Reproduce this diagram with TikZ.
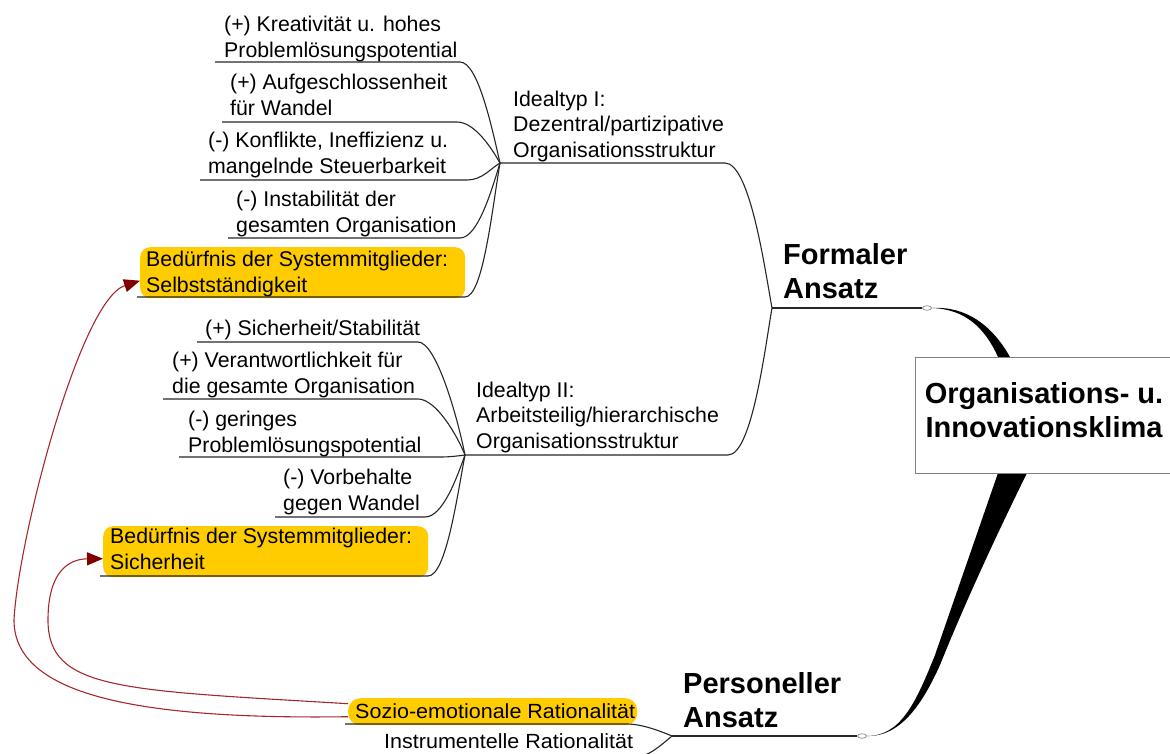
\documentclass[tikz,border=0pt]{standalone}
\usepackage{fontspec}
\usepackage{graphicx}
\setmainfont{Liberation Sans}
\usetikzlibrary{arrows.meta,shapes.geometric}
\definecolor{notefill}{HTML}{FFCC00}
\definecolor{linkred}{RGB}{165,40,45}
\definecolor{tipred}{RGB}{128,0,0}

\begin{document}
\begin{tikzpicture}[x=1pt,y=-1pt,
  % multi-line texts are placed by the baseline of their last line
  txt/.style={anchor=base west, inner sep=0pt, align=left, font=\fontsize{21.3}{25.4}\selectfont},
  narrow/.style={anchor=base west, inner sep=0pt, font=\fontsize{20.5}{24}\selectfont},
  head/.style={anchor=base west, inner sep=0pt, align=left, font=\bfseries\fontsize{29}{33.5}\selectfont},
  twig/.style={draw=black!85, line width=1.1pt},
  notebox/.style={fill=notefill, rounded corners=10pt, inner sep=0pt, anchor=north west},
  link/.style={draw=linkred, line width=1.1pt, -{Triangle[length=16pt,width=13pt,color=tipred]}},
  knot/.style={ellipse, draw=black!55, fill=white, line width=0.6pt, minimum width=9pt, minimum height=4.5pt, inner sep=0pt},
]
\useasboundingbox (0,0) rectangle (1170,753);
\clip (0,0) rectangle (1170,753);

% hubs where the branches meet
\coordinate (hubI)  at (500,163);
\coordinate (hubII) at (465,455);
\coordinate (hubF)  at (772,308);
\coordinate (hubP)  at (672,736);

% highlighted needs
\node[notebox, minimum width=325, minimum height=51] (selbstbox) at (140,247) {};
\node[notebox, minimum width=325, minimum height=51] (sicherbox) at (103,526) {};
\node[notebox, rounded corners=12pt, minimum width=289, minimum height=27] (soziobox) at (348,698) {};

% ---- Idealtyp I and its leaves
\node[txt] (k1) at (224,57)  {(+) Kreativität u. hohes\\Problemlösungspotential};
\node[txt] (k2) at (230,115) {(+) Aufgeschlossenheit\\für Wandel};
\node[txt] (k3) at (208,173) {(-) Konflikte, Ineffizienz u.\\mangelnde Steuerbarkeit};
\node[txt] (k4) at (236,232) {(-) Instabilität der\\gesamten Organisation};
\node[txt] (k5) at (146,292) {Bedürfnis der Systemmitglieder:\\Selbstständigkeit};

\coordinate (k1a) at (215,62);  \coordinate (k1b) at (460,62);
\coordinate (k2a) at (222,122); \coordinate (k2b) at (457,122);
\coordinate (k3a) at (200,180); \coordinate (k3b) at (467,180);
\coordinate (k4a) at (228,238); \coordinate (k4b) at (460,238);
\coordinate (k5a) at (137,297); \coordinate (k5b) at (465,297);

\draw[twig] (k1a) -- (k1b) .. controls +(18,0) and +(-8,-35) .. (hubI);
\draw[twig] (k2a) -- (k2b) .. controls +(18,0) and +(-8,-14) .. (hubI);
\draw[twig] (k3a) -- (k3b) .. controls +(15,0) and +(-10,6) .. (hubI);
\draw[twig] (k4a) -- (k4b) .. controls +(18,0) and +(-8,26) .. (hubI);
\draw[twig] (k5a) -- (k5b) .. controls +(18,0) and +(-8,47) .. (hubI);

\node[txt] (typI) at (513,157) {Idealtyp I:\\Dezentral/partizipative\\Organisationsstruktur};
\coordinate (typIend) at (725,163);
\draw[twig] (hubI) -- (typIend) .. controls +(25,0) and +(-7,-38) .. (hubF);

% ---- Idealtyp II and its leaves
\node[txt] (s1) at (205,335) {(+) Sicherheit/Stabilität};
\node[txt] (s2) at (172,393) {(+) Verantwortlichkeit für\\die gesamte Organisation};
\node[txt] (s3) at (188,452) {(-) geringes\\Problemlösungspotential};
\node[txt] (s4) at (283,510) {(-) Vorbehalte\\gegen Wandel};
\node[txt] (s5) at (110,569) {Bedürfnis der Systemmitglieder:\\Sicherheit};

\coordinate (s1a) at (197,342); \coordinate (s1b) at (418,342);
\coordinate (s2a) at (163,399); \coordinate (s2b) at (418,399);
\coordinate (s3a) at (179,457); \coordinate (s3b) at (440,457);
\coordinate (s4a) at (275,517); \coordinate (s4b) at (425,517);
\coordinate (s5a) at (100,576); \coordinate (s5b) at (428,576);

\draw[twig] (s1a) -- (s1b) .. controls +(18,0) and +(-8,-40) .. (hubII);
\draw[twig] (s2a) -- (s2b) .. controls +(18,0) and +(-8,-20) .. (hubII);
\draw[twig] (s3a) -- (s3b) .. controls +(10,0) and +(-8,1) .. (hubII);
\draw[twig] (s4a) -- (s4b) .. controls +(18,0) and +(-8,22) .. (hubII);
\draw[twig] (s5a) -- (s5b) .. controls +(18,0) and +(-8,42) .. (hubII);

\node[txt] (typII) at (476,448) {Idealtyp II:\\Arbeitsteilig/hierarchische\\Organisationsstruktur};
\coordinate (typIIend) at (728,455);
\draw[twig] (hubII) -- (typIIend) .. controls +(24,0) and +(-7,40) .. (hubF);

% ---- main branches
\node[head] (formal) at (783,298) {Formaler\\Ansatz};
\node[head] (person) at (683,727) {Personeller\\Ansatz};

\node[narrow] (sozio) at (355,718) {\scalebox{1.05}[1]{Sozio-emotionale Rationalität}};
\node[narrow] (instr) at (384,748) {\scalebox{1.05}[1]{Instrumentelle Rationalität}};
\coordinate (soza) at (345,724); \coordinate (sozb) at (627,724);
\coordinate (insa) at (380,758); \coordinate (insb) at (632,758);
\draw[twig] (soza) -- (sozb) .. controls +(15,0) and +(-12,-5) .. (hubP);
\draw[twig] (insa) -- (insb) .. controls +(15,0) and +(-12,10) .. (hubP);

\node[knot] (knotF) at (927,308) {};
\node[knot] (knotP) at (862,736) {};
\draw[twig] (hubF) -- (knotF.west);
\draw[twig] (hubP) -- (knotP.west);

% tapered trunks into the central topic
\fill[black] (knotF.east) .. controls (965,309) and (985,328) .. (998,357)
  -- (1015,395) -- (1030,390) -- (1010,357)
  .. controls (992,325) and (966,306) .. (knotF.east) -- cycle;
\fill[black] (knotP.east) .. controls (900,736) and (915,705) .. (935,655)
  -- (998,473) -- (1020,410) -- (1060,410) -- (1027,473)
  .. controls (990,548) and (960,615) .. (940,665)
  .. controls (922,705) and (900,737) .. (knotP.east) -- cycle;

% central topic
\node[draw=black!50, fill=white, line width=0.9pt, minimum width=260, minimum height=116,
      anchor=north west, inner sep=0pt] (core) at (915,357) {};
\node[head, anchor=base, align=center] (coretxt) at (1044,437) {Organisations- u.\\Innovationsklima};

% relations from the socio-emotional rationale to the needs
\draw[link] ([yshift=-5pt]soziobox.west) .. controls (120,720) and (14,690) .. (14,620)
  .. controls (18,540) and (80,300) .. ([yshift=-8pt]selbstbox.west);
\draw[link] ([yshift=8pt]soziobox.west) .. controls (120,690) and (48,690) .. (48,620)
  .. controls (48,570) and (70,559) .. ([yshift=-7pt]sicherbox.west);
\end{tikzpicture}
\end{document}
